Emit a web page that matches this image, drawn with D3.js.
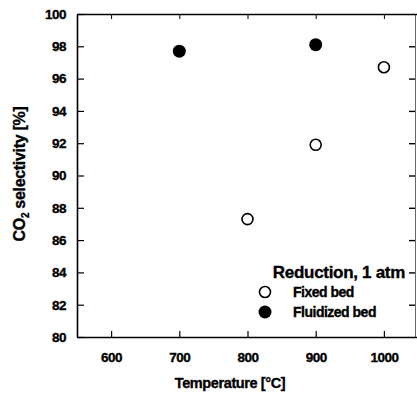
<!DOCTYPE html>
<html>
<head>
<meta charset="utf-8">
<script src="https://cdn.jsdelivr.net/npm/d3@7"></script>
<style>
  body { margin: 0; background: #fff; }
  text { font-family: "Liberation Sans", Arial, sans-serif; font-weight: bold; fill: #000; stroke: #000; stroke-width: 0.35px; }
  .axis path, .axis line { stroke: #000; }
</style>
</head>
<body>
<div id="chart"></div>
<script>
// data
var xTicks = [600, 700, 800, 900, 1000];
var yTicks = [80, 82, 84, 86, 88, 90, 92, 94, 96, 98, 100];
var fixedTemp = [800, 900, 1000];
var fixedSel = [87.3, 91.9, 96.7];
var fluidTemp = [700, 900];
var fluidSel = [97.7, 98.1];

var W = 417, H = 396;
var plotLeft = 77, plotRight = 418, plotTop = 14, plotBottom = 337;

var x = d3.scaleLinear().domain([550, 1050]).range([plotLeft, plotRight]);
var y = d3.scaleLinear().domain([80, 100]).range([plotBottom, plotTop]);

var svg = d3.select("#chart").append("svg")
    .attr("width", W)
    .attr("height", H);

// left axis
svg.append("g")
    .attr("class", "axis")
    .attr("transform", "translate(" + plotLeft + ",0)")
    .call(d3.axisLeft(y).tickValues(yTicks).tickSize(-7).tickSizeOuter(0).tickPadding(11))
    .call(function(g) {
      g.select(".domain").attr("stroke-width", 1.6);
      g.selectAll("line").attr("stroke-width", 1.2);
      g.selectAll("text").style("font-size", "13.5px").style("letter-spacing", "-0.5px");
    });

// bottom axis
svg.append("g")
    .attr("class", "axis")
    .attr("transform", "translate(0," + plotBottom + ")")
    .call(d3.axisBottom(x).tickValues(xTicks).tickSize(-6).tickSizeOuter(0).tickPadding(15).tickFormat(d3.format("d")))
    .call(function(g) {
      g.select(".domain").attr("stroke-width", 1.6);
      g.selectAll("line").attr("stroke-width", 1.2);
      g.selectAll("text").style("font-size", "13.5px").style("letter-spacing", "-0.5px");
    });

// top border with inward ticks
svg.append("g")
    .attr("class", "axis")
    .attr("transform", "translate(0," + plotTop + ")")
    .call(d3.axisTop(x).tickValues(xTicks).tickSize(-5).tickSizeOuter(0).tickFormat(""))
    .call(function(g) {
      g.select(".domain").attr("stroke-width", 1.6);
      g.selectAll("line").attr("stroke-width", 1);
    });

// right side: only ticks, border is very faint
svg.append("g")
    .attr("class", "axis")
    .attr("transform", "translate(415,0)")
    .call(d3.axisRight(y).tickValues(yTicks.slice(1, -1)).tickSize(-6).tickSizeOuter(0).tickFormat(""))
    .call(function(g) {
      g.select(".domain").attr("stroke", "#ddd").attr("stroke-width", 0.6);
      g.selectAll("line").attr("stroke-width", 1.4);
    });

// fixed bed (open circles)
svg.selectAll(".fixed")
    .data(fixedTemp)
  .enter().append("circle")
    .attr("class", "fixed")
    .attr("cx", function(d) { return x(d); })
    .attr("cy", function(d, i) { return y(fixedSel[i]); })
    .attr("r", 5.5)
    .attr("fill", "#fff")
    .attr("stroke", "#000")
    .attr("stroke-width", 1.6);

// fluidized bed (filled circles)
svg.selectAll(".fluid")
    .data(fluidTemp)
  .enter().append("circle")
    .attr("class", "fluid")
    .attr("cx", function(d) { return x(d); })
    .attr("cy", function(d, i) { return y(fluidSel[i]); })
    .attr("r", 6.5)
    .attr("fill", "#000");

// legend
svg.append("text")
    .attr("x", 405)
    .attr("y", 278)
    .attr("text-anchor", "end")
    .style("font-size", "17px")
    .style("letter-spacing", "-0.3px")
    .text("Reduction, 1 atm");

svg.append("circle")
    .attr("cx", 265).attr("cy", 292).attr("r", 5.5)
    .attr("fill", "#fff").attr("stroke", "#000").attr("stroke-width", 1.6);
svg.append("text")
    .attr("x", 293).attr("y", 297)
    .style("font-size", "14px")
    .style("letter-spacing", "-0.5px")
    .text("Fixed bed");

svg.append("circle")
    .attr("cx", 265).attr("cy", 312).attr("r", 6.5)
    .attr("fill", "#000");
svg.append("text")
    .attr("x", 293).attr("y", 317)
    .style("font-size", "14px")
    .style("letter-spacing", "-0.5px")
    .text("Fluidized bed");

// axis titles
svg.append("text")
    .attr("x", 230)
    .attr("y", 388)
    .attr("text-anchor", "middle")
    .style("font-size", "14.5px")
    .style("letter-spacing", "-0.4px")
    .text("Temperature [°C]");

var yl = svg.append("text")
    .attr("transform", "translate(25,174) rotate(-90)")
    .attr("text-anchor", "middle")
    .style("font-size", "16px")
    .style("letter-spacing", "-0.3px");
yl.append("tspan").text("CO");
yl.append("tspan").attr("dy", 4).style("font-size", "10px").text("2");
yl.append("tspan").attr("dy", -4).text(" selectivity [%]");
</script>
</body>
</html>
